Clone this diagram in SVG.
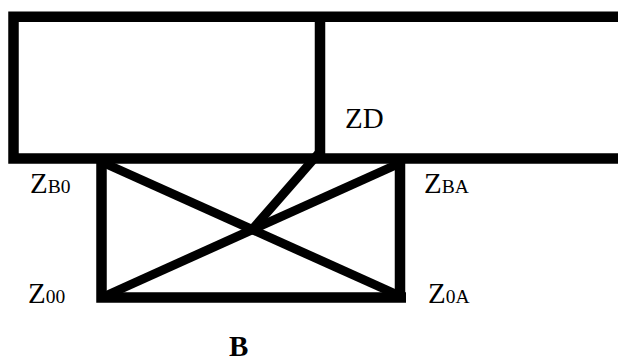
<svg xmlns="http://www.w3.org/2000/svg" width="618" height="363" viewBox="0 0 618 363">
<style>
.frame{fill:none;stroke:#000;stroke-width:10.5;stroke-linejoin:miter;stroke-linecap:butt}
.diag{fill:none;stroke:#000;stroke-width:9;stroke-linecap:butt}
.lbl{font-family:"Liberation Serif","Times New Roman",serif;fill:#000;font-size:29px}
.sub{font-size:19.5px}
.bold{font-weight:bold}
</style>
<rect width="618" height="363" fill="#fff"/>
<g id="top-block">
<path class="frame" d="M 640 16.7 H 13.5 V 158.5 H 640"/>
<line class="frame" x1="320" y1="16.7" x2="320" y2="158.5"/>
</g>
<g id="box-B">
<path class="frame" d="M 101.5 158.5 V 297.5 H 406"/>
<line class="frame" x1="400" y1="158.5" x2="400" y2="300"/>
</g>
<g id="connectors">
<line class="diag" x1="104" y1="163" x2="400" y2="296"/>
<line class="diag" x1="103" y1="297" x2="398" y2="164"/>
<line class="diag" x1="319" y1="153" x2="250" y2="232"/>
</g>
<g id="labels">
<text class="lbl" x="345" y="128">ZD</text>
<text class="lbl" x="30" y="193">Z<tspan class="sub">B0</tspan></text>
<text class="lbl" x="424" y="193">Z<tspan class="sub">BA</tspan></text>
<text class="lbl" x="28" y="303">Z<tspan class="sub">00</tspan></text>
<text class="lbl" x="428" y="303">Z<tspan class="sub">0A</tspan></text>
<text class="lbl bold" x="229" y="356">B</text>
</g>
</svg>
